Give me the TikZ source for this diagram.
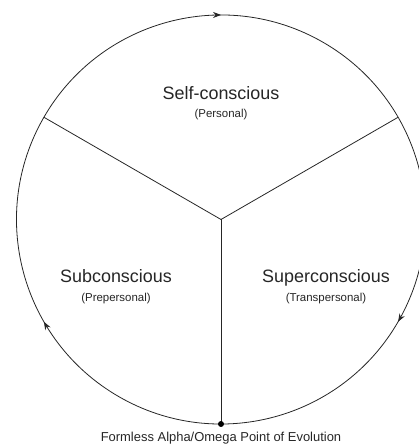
\documentclass[tikz,border=0pt]{standalone}
\usepackage{fontspec}
\setmainfont{Liberation Sans}
\usetikzlibrary{positioning,arrows.meta,decorations.markings,calc}

\begin{document}
\begin{tikzpicture}[
  x=1bp, y=1bp,
  wheel/.style={line width=0.8bp, draw=black!85},
  flow/.style={decoration={markings,
      mark=at position 0.1667 with {\arrow{Stealth[length=8bp,width=6bp]}},
      mark=at position 0.5 with {\arrow{Stealth[length=8bp,width=6bp]}},
      mark=at position 0.8333 with {\arrow{Stealth[length=8bp,width=6bp]}}},
    postaction={decorate}},
  realm/.style={font=\fontsize{18}{20}\selectfont, text=black!85, anchor=base, inner sep=0pt},
  gloss/.style={font=\fontsize{11.5}{13}\selectfont, text=black!85, anchor=base, inner sep=0pt},
  caption/.style={font=\fontsize{13}{15}\selectfont, text=black!85, anchor=base, inner sep=0pt},
  dot/.style={circle, fill=black, inner sep=0pt, minimum size=6bp},
]
\useasboundingbox (0,0) rectangle (418,447);

% Wheel
\coordinate (O) at (221,227.5);
\coordinate (rimR) at ($(O)+(30:204.5)$);
\coordinate (rimL) at ($(O)+(150:204.5)$);
\coordinate (rimB) at ($(O)+(270:204.5)$);

\draw[wheel, flow] (rimL) arc[start angle=150, end angle=-210, radius=204.5];
\draw[wheel] (O) -- (rimR);
\draw[wheel] (O) -- (rimL);
\draw[wheel] (O) -- (rimB);
\node[dot] (alpha) at (rimB) {};

% Labels
\node[realm] (self) at (221,347) {Self-conscious};
\node[gloss] (selfnote) at (221,329) {(Personal)};
\node[realm] (subc) at (116,164) {Subconscious};
\node[gloss] (subcnote) at (116,145) {(Prepersonal)};
\node[realm] (supc) at (326,164) {Superconscious};
\node[gloss] (supcnote) at (326,145) {(Transpersonal)};
\node[caption] (omega) at (221,5.5) {Formless Alpha/Omega Point of Evolution};

\end{tikzpicture}
\end{document}
